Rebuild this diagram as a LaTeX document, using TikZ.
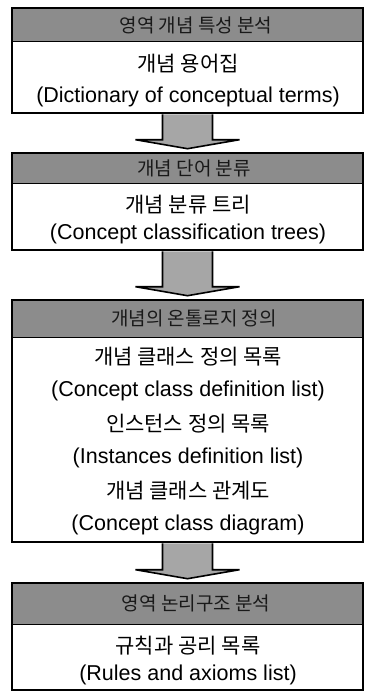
\documentclass[tikz,border=0pt]{standalone}
\usepackage{fontspec}
\setmainfont{Liberation Sans}
\newfontfamily\kr{Noto Sans CJK KR}
\usetikzlibrary{calc}
\begin{document}
\begin{tikzpicture}[x=1pt,y=1pt,
  frame/.style={draw=black, line width=2.6pt, minimum width=351pt, inner sep=0pt},
  hdr/.style={fill=black!45, draw=black, line width=1pt, minimum width=351pt, inner sep=0pt},
  hdrtext/.style={font=\kr\fontsize{19}{22}\selectfont, text=black!90, inner sep=0pt},
  kline/.style={font=\kr\fontsize{21}{24}\selectfont, inner sep=0pt},
  eline/.style={font=\fontsize{21.5}{24}\selectfont, inner sep=0pt},
  barrow/.style={fill=black!35, draw=black, line width=1.6pt, line join=miter}]
\useasboundingbox (0,0) rectangle (368,-693);
% box 1
\node[hdr, minimum height=34pt] (h1) at (187.5,-25) {};
\node[frame, minimum height=105pt] (b1) at (187.5,-60.5) {};
\node[hdrtext] (t1) at (196,-25) {영역 개념 특성 분석};
\node[kline] (k1) at (188,-64) {개념 용어집};
\node[eline] (e1) at (188,-97) {(Dictionary of conceptual terms)};
% box 2
\node[hdr, minimum height=30pt] (h2) at (187.5,-168) {};
\node[frame, minimum height=97pt] (b2) at (187.5,-201.5) {};
\node[hdrtext] (t2) at (194,-168) {개념 단어 분류};
\node[kline] (k2) at (188,-205) {개념 분류 트리};
\node[eline] (e2) at (188,-234) {(Concept classification trees)};
% box 3
\node[hdr, minimum height=37pt] (h3) at (187.5,-318.5) {};
\node[frame, minimum height=242pt] (b3) at (187.5,-421) {};
\node[hdrtext] (t3) at (194,-318.5) {개념의 온톨로지 정의};
\node[kline] (k3a) at (188,-357) {개념 클래스 정의 목록};
\node[eline] (e3a) at (188,-391) {(Concept class definition list)};
\node[kline] (k3b) at (188,-424) {인스턴스 정의 목록};
\node[eline] (e3b) at (188,-458) {(Instances definition list)};
\node[kline] (k3c) at (188,-491) {개념 클래스 관계도};
\node[eline] (e3c) at (188,-525) {(Concept class diagram)};
% box 4
\node[hdr, minimum height=41pt] (h4) at (187.5,-603.5) {};
\node[frame, minimum height=107pt] (b4) at (187.5,-636.5) {};
\node[hdrtext] (t4) at (196,-603.5) {영역 논리구조 분석};
\node[kline] (k4) at (188,-646) {규칙과 공리 목록};
\node[eline] (e4) at (188,-675) {(Rules and axioms list)};
% arrows
\foreach \a/\b in {b1/b2, b2/b3, b3/b4}{
  \draw[barrow] ([xshift=-25pt]\a.south) |- ([xshift=-52pt,yshift=12pt]\b.north)
     -- ([yshift=3pt]\b.north) -- ([xshift=52pt,yshift=12pt]\b.north)
     -| ([xshift=25pt]\a.south);
}
\end{tikzpicture}
\end{document}
